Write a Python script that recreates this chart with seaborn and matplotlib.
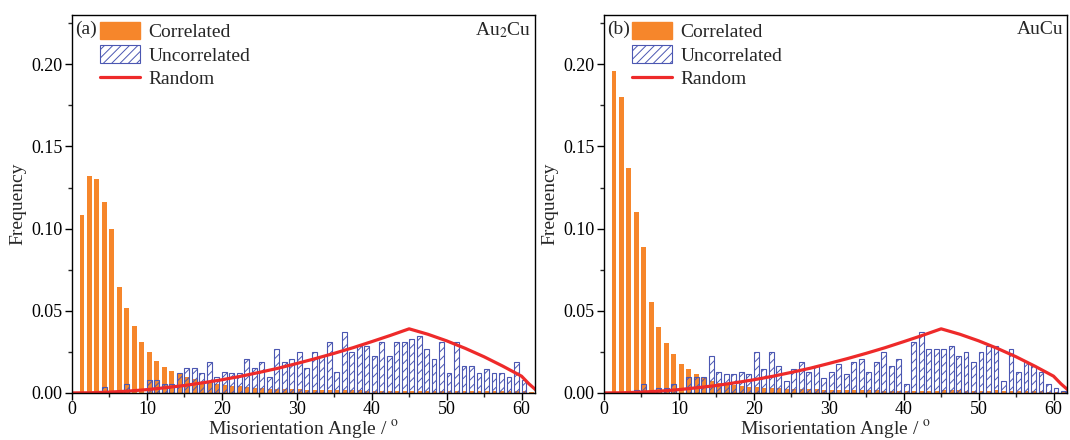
import numpy as np
import pandas as pd
import matplotlib
matplotlib.use("Agg")
import matplotlib.pyplot as plt
import seaborn as sns
from matplotlib.patches import Patch
from matplotlib.lines import Line2D
from matplotlib.ticker import MultipleLocator

# ---------------- data ----------------
angles = list(range(1, 62))

corr_a = [0.108, 0.132, 0.130, 0.116, 0.100, 0.0646, 0.0515, 0.0407, 0.0308, 0.0247,
          0.0196, 0.0156, 0.0136, 0.0116, 0.0097, 0.0084, 0.0067, 0.0059, 0.0055, 0.0047,
          0.0045, 0.0040, 0.0038, 0.0030, 0.0028, 0.0026, 0.0025, 0.0024, 0.0022, 0.0021,
          0.0020, 0.0019, 0.0018, 0.0018, 0.0017, 0.0016, 0.0015, 0.0015, 0.0014, 0.0014,
          0.0014, 0.0013, 0.0013, 0.0013, 0.0012, 0.0012, 0.0012, 0.0012, 0.0011, 0.0011,
          0.0011, 0.0011, 0.0010, 0.0010, 0.0010, 0.0010, 0.0010, 0.0009, 0.0009, 0.0009,
          0.0008]
uncorr_a = [0.0, 0.0, 0.0, 0.0035, 0.0, 0.0, 0.0055, 0.0, 0.0, 0.0079,
            0.0079, 0.0055, 0.0055, 0.0120, 0.0150, 0.0150, 0.0120, 0.0186, 0.0095, 0.0126,
            0.0120, 0.0120, 0.0207, 0.0150, 0.0186, 0.0095, 0.0267, 0.0186, 0.0207, 0.0247,
            0.0150, 0.0247, 0.0227, 0.0308, 0.0126, 0.0369, 0.0247, 0.0288, 0.0288, 0.0227,
            0.0308, 0.0227, 0.0308, 0.0308, 0.0328, 0.0349, 0.0267, 0.0207, 0.0308, 0.0120,
            0.0308, 0.0166, 0.0166, 0.0120, 0.0146, 0.0120, 0.0120, 0.0095, 0.0186, 0.0079,
            0.0]

corr_b = [0.196, 0.180, 0.137, 0.110, 0.0886, 0.0555, 0.0403, 0.0306, 0.0234, 0.0174,
          0.0144, 0.0114, 0.0092, 0.0071, 0.0059, 0.0052, 0.0046, 0.0042, 0.0038, 0.0035,
          0.0032, 0.0030, 0.0028, 0.0026, 0.0025, 0.0024, 0.0022, 0.0021, 0.0020, 0.0019,
          0.0018, 0.0017, 0.0016, 0.0016, 0.0015, 0.0015, 0.0014, 0.0014, 0.0013, 0.0013,
          0.0013, 0.0013, 0.0012, 0.0012, 0.0015, 0.0016, 0.0016, 0.0014, 0.0012, 0.0011,
          0.0011, 0.0015, 0.0010, 0.0010, 0.0010, 0.0010, 0.0009, 0.0009, 0.0008, 0.0008,
          0.0007]
uncorr_b = [0.0, 0.0, 0.0, 0.0018, 0.0055, 0.0, 0.0032, 0.0032, 0.0055, 0.0,
            0.0095, 0.0095, 0.0095, 0.0227, 0.0126, 0.0116, 0.0116, 0.0126, 0.0116, 0.0247,
            0.0146, 0.0247, 0.0166, 0.0075, 0.0146, 0.0187, 0.0126, 0.0166, 0.0090, 0.0126,
            0.0176, 0.0116, 0.0187, 0.0207, 0.0126, 0.0187, 0.0247, 0.0166, 0.0207, 0.0055,
            0.0308, 0.0369, 0.0267, 0.0267, 0.0267, 0.0288, 0.0227, 0.0247, 0.0187, 0.0247,
            0.0288, 0.0288, 0.0075, 0.0267, 0.0126, 0.0187, 0.0166, 0.0126, 0.0055, 0.0028,
            0.0014]

rand_angle = [0, 2.5, 5, 7.5, 10, 12.5, 15, 17.5, 20, 22.5, 25, 27.5, 30, 32.5, 35, 37.5,
              40, 42.5, 45, 47.5, 50, 52.5, 55, 57.5, 60, 61, 62, 62.8]
rand_freq = [0.0, 0.0001, 0.0005, 0.0011, 0.0020, 0.0032, 0.0045, 0.0062, 0.0080, 0.0101,
             0.0125, 0.0150, 0.0179, 0.0209, 0.0241, 0.0275, 0.0312, 0.0350, 0.0390, 0.0357,
             0.0317, 0.0271, 0.0220, 0.0163, 0.0102, 0.0055, 0.0015, 0.0]

panels = ["(a)", "(b)"]
materials = [r"Au$_2$Cu", "AuCu"]
legend_labels = ["Correlated", "Uncorrelated", "Random"]

# ---------------- style ----------------
sns.set_theme(style="ticks")
plt.rcParams["font.family"] = ["Liberation Serif", "DejaVu Serif"]
plt.rcParams["mathtext.fontset"] = "stix"
plt.rcParams["hatch.linewidth"] = 0.7

ORANGE = "#F6862B"
BLUE = "#4B57B2"
RED = "#EE2A2A"

fig = plt.figure(figsize=(10.7, 4.4), dpi=100)
axes = [fig.add_axes([0.0673, 0.107, 0.4327, 0.859]),
        fig.add_axes([0.5645, 0.107, 0.4327, 0.859])]

data = [(corr_a, uncorr_a), (corr_b, uncorr_b)]
for ax, (corr, unc), tag, mat in zip(axes, data, panels, materials):
    bar_x = np.array(angles) + 0.325
    sns.barplot(x=bar_x, y=corr, native_scale=True, orient="x", color=ORANGE,
                saturation=1, width=0.65, linewidth=0, errorbar=None, ax=ax)
    sns.barplot(x=bar_x, y=unc, native_scale=True, orient="x", color=BLUE,
                saturation=1, width=0.65, fill=False, hatch="////", linewidth=0.8,
                errorbar=None, ax=ax)
    sns.lineplot(x=rand_angle, y=rand_freq, color=RED, linewidth=2.3, ax=ax)

    ax.set_xlim(0, 61.8)
    ax.set_ylim(0, 0.23)
    ax.xaxis.set_major_locator(MultipleLocator(10))
    ax.xaxis.set_minor_locator(MultipleLocator(5))
    ax.yaxis.set_major_locator(MultipleLocator(0.05))
    ax.yaxis.set_minor_locator(MultipleLocator(0.025))
    ax.set_xticks(range(0, 61, 10))
    ax.set_xticklabels([str(v) for v in range(0, 61, 10)])
    ax.yaxis.set_major_formatter(matplotlib.ticker.FormatStrFormatter("%.2f"))
    ax.tick_params(which="major", direction="out", length=5, width=1, labelsize=13, pad=2,
                   colors="black")
    ax.tick_params(axis="x", which="major", pad=1)
    ax.tick_params(which="minor", direction="out", length=3, width=1)
    for s in ax.spines.values():
        s.set_visible(True)
        s.set_linewidth(1.0)
        s.set_color("black")
    ax.set_xlabel(r"Misorientation Angle / $^{\rm o}$", fontsize=14, labelpad=0)
    ax.set_ylabel("Frequency", fontsize=14, labelpad=3)

    ax.text(0.007, 0.985, tag, transform=ax.transAxes, fontsize=14, va="top", ha="left")
    ax.text(0.993, 0.985, mat, transform=ax.transAxes, fontsize=14, va="top", ha="right")

    handles = [Patch(facecolor=ORANGE, edgecolor=ORANGE),
               Patch(facecolor="white", edgecolor=BLUE, hatch="////", linewidth=0.8),
               Line2D([0], [0], color=RED, linewidth=2.3)]
    ax.legend(handles, legend_labels, loc="upper left", bbox_to_anchor=(0.035, 1.013),
              frameon=False, fontsize=14, handlelength=2.05, handleheight=1.0,
              labelspacing=0.22, handletextpad=0.45, borderaxespad=0.2)

fig.savefig("out.png", dpi=100)
